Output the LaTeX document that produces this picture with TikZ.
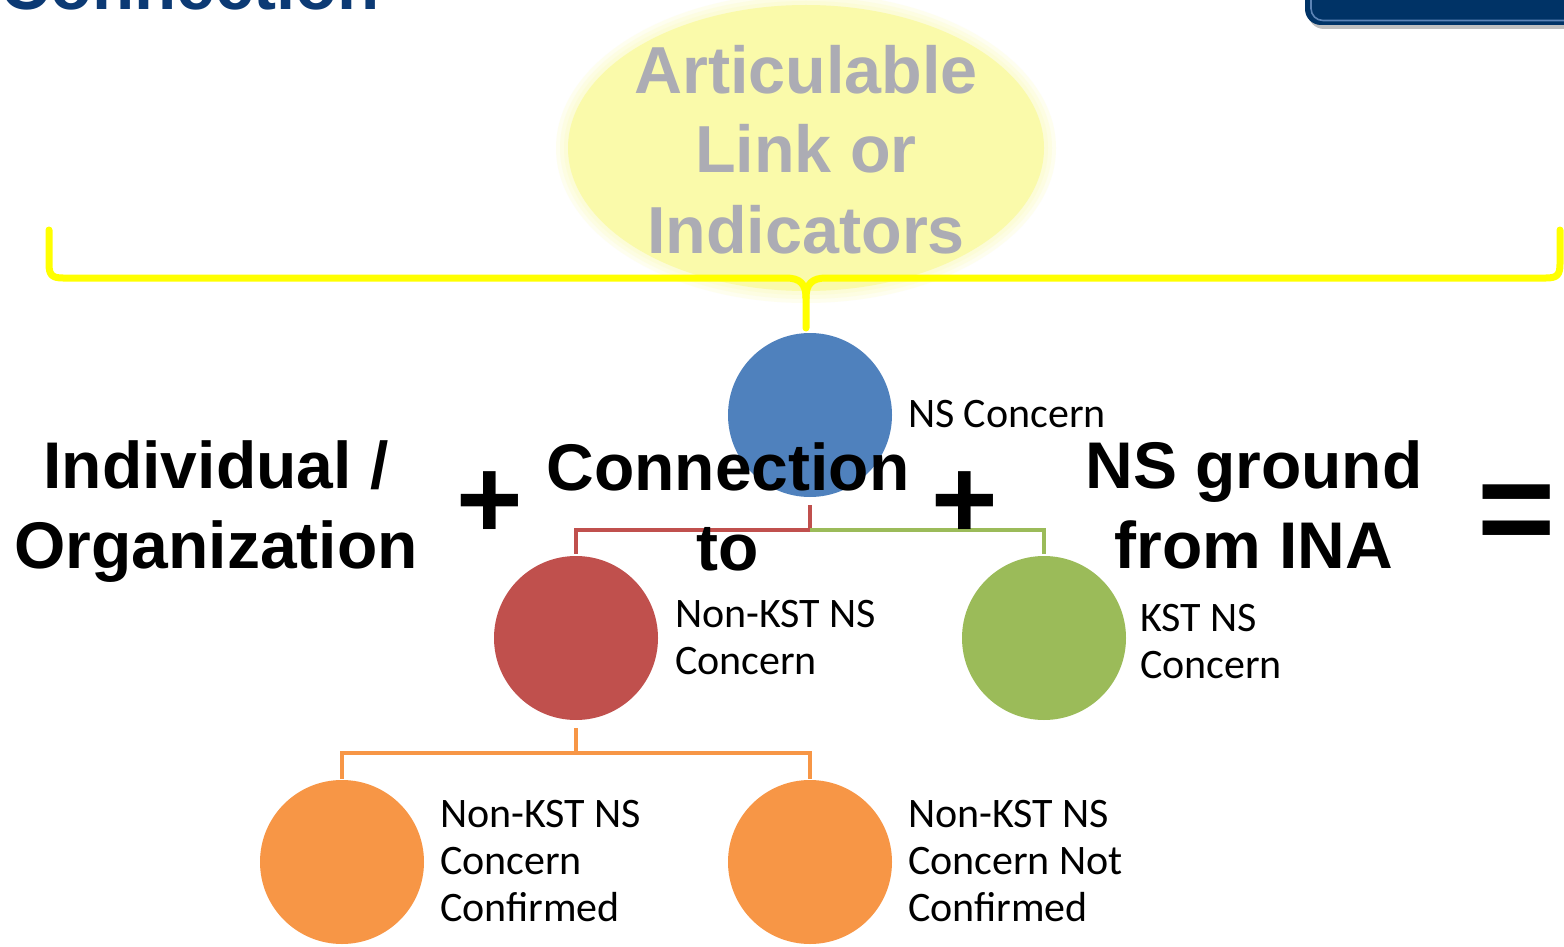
\documentclass[tikz,border=0pt]{standalone}
\usepackage{fontspec}
\setmainfont{Liberation Sans}
\newfontfamily\lblfont{Carlito}
\usetikzlibrary{shapes.geometric,calc}

\definecolor{titlenavy}{RGB}{12,58,116}
\definecolor{tabnavy}{RGB}{0,51,102}
\definecolor{tabedge}{RGB}{92,132,182}
\definecolor{paleyellow}{RGB}{250,250,170}
\definecolor{softgray}{RGB}{172,172,180}
\definecolor{braceyellow}{RGB}{255,255,0}
\definecolor{nsblue}{RGB}{79,129,189}
\definecolor{nsred}{RGB}{192,80,77}
\definecolor{nsgreen}{RGB}{155,187,89}
\definecolor{nsorange}{RGB}{247,150,70}

\begin{document}
\begin{tikzpicture}[x=0.5pt,y=-0.5pt,
  every node/.style={inner sep=0pt,outer sep=0pt},
  bigtxt/.style={font=\fontsize{33}{40}\selectfont\bfseries, align=center, anchor=base},
  optxt/.style={font=\fontsize{#1}{#1}\selectfont\bfseries, anchor=center},
  lbl/.style={font=\lblfont\fontsize{21}{23.5}\selectfont, align=left, anchor=base west},
  dot/.style={circle, minimum size=82pt, fill=#1},
  link/.style={draw=#1, line width=2.2pt},
  brace/.style={draw=braceyellow, line width=3.5pt, line cap=round, line join=round},
]
\clip (0,0) rectangle (1564,947);
\fill[white] (0,0) rectangle (1564,947);

% heading, mostly above the page edge
\node[font=\fontsize{34.5}{40}\selectfont\bfseries, text=titlenavy, anchor=base east] (title) at (380,10) {Connection};

% tab in the upper right corner
\fill[black, opacity=0.25, rounded corners=8pt] (1308,-60) rectangle (1620,29);
\fill[tabnavy, rounded corners=8pt] (1305,-60) rectangle (1620,25);
\draw[tabedge, line width=0.8pt, rounded corners=6pt] (1311,-60) rectangle (1620,20.5);

% soft yellow ellipse with its caption
\foreach \g in {12,8,4}
  \fill[paleyellow, opacity=0.18] (806,148) ellipse ({238+\g} and {143+\g});
\node[ellipse, fill=paleyellow, minimum width=238pt, minimum height=143pt] (cloud) at (806,148) {};
\node[font=\fontsize{33.25}{40}\selectfont\bfseries, text=softgray, align=center, anchor=base] (ali) at (806,253) {Articulable\\Link or\\Indicators};

% brace gathering the three terms
\coordinate (tip) at (806,328);
\draw[brace] (49,230) -- (49,264) .. controls (49,275) and (52,278) .. (63,278) -- (786,278)
  .. controls (800,278) and (806,284) .. (806,298) -- (tip);
\draw[brace] (1560,230) -- (1560,264) .. controls (1560,275) and (1557,278) .. (1546,278) -- (826,278)
  .. controls (812,278) and (806,284) .. (806,298);

% tree of concerns
\node[dot=nsblue]   (ns)      at (810,415) {};
\node[dot=nsred]    (nonkst)  at (576,638) {};
\node[dot=nsgreen]  (kst)     at (1044,638) {};
\node[dot=nsorange] (conf)    at (342,862) {};
\node[dot=nsorange] (notconf) at (810,862) {};

\draw[link=nsred]    ($(ns.south)+(0,8)$) -- ++(0,25) -| ($(nonkst.north)+(0,-2)$);
\draw[link=nsgreen]  ($(ns.south)+(0,33)$) -| ($(kst.north)+(0,-2)$);
\draw[link=nsorange] ($(nonkst.south)+(0,8)$) -- ++(0,25) -| ($(conf.north)+(0,-1)$);
\draw[link=nsorange] ($(nonkst.south)+(0,33)$) -| ($(notconf.north)+(0,-1)$);

% labels (a multi-line node sits on its last baseline)
\node[lbl] (l-ns)      at (908,427) {NS Concern};
\node[lbl] (l-nonkst)  at (675,674) {Non-KST NS\\Concern};
\node[lbl] (l-kst)     at (1140,678) {KST NS\\Concern};
\node[lbl] (l-conf)    at (440,921) {Non-KST NS\\Concern\\Confirmed};
\node[lbl] (l-notconf) at (908,921) {Non-KST NS\\Concern Not\\Confirmed};

% the equation in front
\node[bigtxt] (who)    at (216,568) {Individual /\\Organization};
\node[bigtxt] (conn)   at (728,570) {Connection\\to};
\node[bigtxt] (ground) at (1254,568) {NS ground\\from INA};
\node[optxt=57] (plusa) at (490,505) {+};
\node[optxt=57] (plusb) at (965,505) {+};
\node[optxt=67] (eq)    at (1517,520) {=};
\end{tikzpicture}
\end{document}
